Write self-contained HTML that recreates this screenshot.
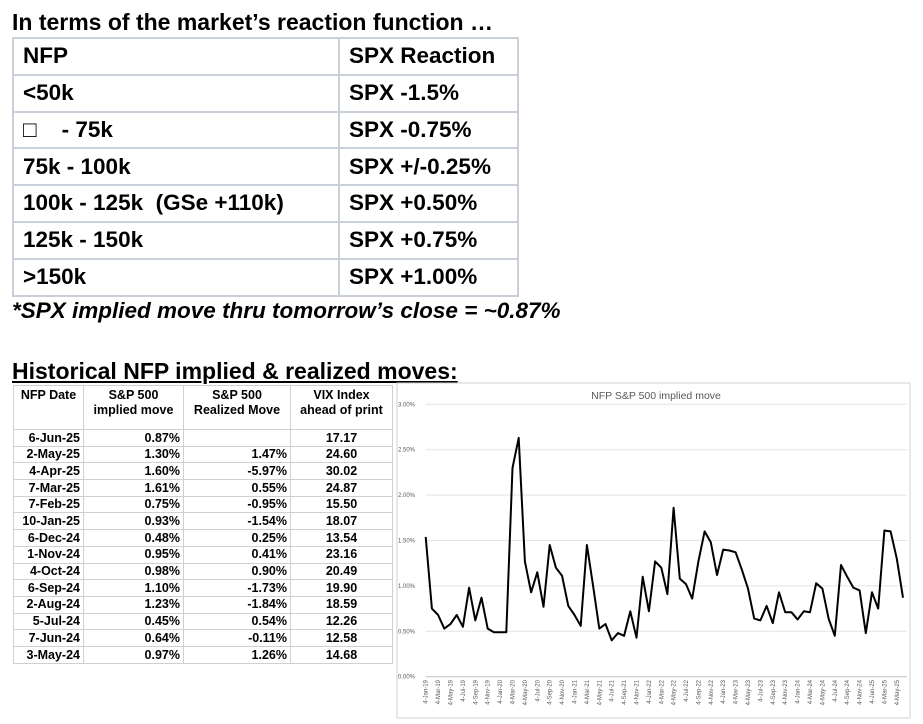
<!DOCTYPE html>
<html><head><meta charset="utf-8"><style>
body{margin:0;width:923px;height:724px;background:#fff;position:relative;overflow:hidden;font-family:"Liberation Sans",Arial,sans-serif;color:#000}
.abs{position:absolute}
#t1{left:12px;top:9px;font-weight:bold;font-size:23px;white-space:nowrap}
#rt{left:12px;top:37px;border-collapse:collapse;font-weight:bold;font-size:22.5px}
#rt td{border:2px solid #c9d0da;height:34.8px;padding:0 0 0 9px;white-space:nowrap;line-height:1}
#note{left:12px;top:298px;font-weight:bold;font-style:italic;font-size:22.5px;white-space:nowrap}
#hist{left:12px;top:358px;font-weight:bold;font-size:23px;text-decoration:underline;white-space:nowrap}
#st{left:13px;top:385px;border-collapse:collapse;font-weight:bold;font-size:12.5px}
#st td{border:1px solid #d0d0d0;padding:0 3px;height:15.7px;line-height:1;white-space:nowrap;text-align:right}
#st tr.h td{text-align:center;vertical-align:top;height:41px;padding-top:2px;line-height:15px}
</style></head><body>
<div id="t1" class="abs">In terms of the market’s reaction function …</div>
<table id="rt" class="abs">
<tr><td style="width:315px">NFP</td><td style="width:168px">SPX Reaction</td></tr>
<tr><td>&lt;50k</td><td>SPX -1.5%</td></tr>
<tr><td>□&nbsp;&nbsp;&nbsp; - 75k</td><td>SPX -0.75%</td></tr>
<tr><td>75k - 100k</td><td>SPX +/-0.25%</td></tr>
<tr><td>100k - 125k&nbsp; (GSe +110k)</td><td>SPX +0.50%</td></tr>
<tr><td>125k - 150k</td><td>SPX +0.75%</td></tr>
<tr><td>&gt;150k</td><td>SPX +1.00%</td></tr>
</table>
<div id="note" class="abs">*SPX implied move thru tomorrow’s close = ~0.87%</div>
<div id="hist" class="abs">Historical NFP implied &amp; realized moves:</div>
<table id="st" class="abs">
<tr class="h"><td style="width:63px">NFP Date</td><td style="width:93px">S&amp;P 500<br>implied move</td><td style="width:100px">S&amp;P 500<br>Realized Move</td><td style="width:95px">VIX Index<br>ahead of print</td></tr>
<tr><td>6-Jun-25</td><td>0.87%</td><td></td><td style="text-align:center">17.17</td></tr>
<tr><td>2-May-25</td><td>1.30%</td><td>1.47%</td><td style="text-align:center">24.60</td></tr>
<tr><td>4-Apr-25</td><td>1.60%</td><td>-5.97%</td><td style="text-align:center">30.02</td></tr>
<tr><td>7-Mar-25</td><td>1.61%</td><td>0.55%</td><td style="text-align:center">24.87</td></tr>
<tr><td>7-Feb-25</td><td>0.75%</td><td>-0.95%</td><td style="text-align:center">15.50</td></tr>
<tr><td>10-Jan-25</td><td>0.93%</td><td>-1.54%</td><td style="text-align:center">18.07</td></tr>
<tr><td>6-Dec-24</td><td>0.48%</td><td>0.25%</td><td style="text-align:center">13.54</td></tr>
<tr><td>1-Nov-24</td><td>0.95%</td><td>0.41%</td><td style="text-align:center">23.16</td></tr>
<tr><td>4-Oct-24</td><td>0.98%</td><td>0.90%</td><td style="text-align:center">20.49</td></tr>
<tr><td>6-Sep-24</td><td>1.10%</td><td>-1.73%</td><td style="text-align:center">19.90</td></tr>
<tr><td>2-Aug-24</td><td>1.23%</td><td>-1.84%</td><td style="text-align:center">18.59</td></tr>
<tr><td>5-Jul-24</td><td>0.45%</td><td>0.54%</td><td style="text-align:center">12.26</td></tr>
<tr><td>7-Jun-24</td><td>0.64%</td><td>-0.11%</td><td style="text-align:center">12.58</td></tr>
<tr><td>3-May-24</td><td>0.97%</td><td>1.26%</td><td style="text-align:center">14.68</td></tr>
</table>
<svg class="abs" style="left:0;top:0" width="923" height="724">
<rect x="397" y="383" width="513" height="335" fill="#fff" stroke="#d0d0d0"/>
<text x="656" y="399" text-anchor="middle" font-size="10.5" fill="#595959" font-family="Liberation Sans, sans-serif">NFP S&amp;P 500 implied move</text>
<g id="grid"></g><g id="xl"></g>
<path id="line" fill="none" stroke="#000" stroke-width="2" stroke-linejoin="round"/>
</svg>
<script>
const yTicks=[0,0.5,1,1.5,2,2.5,3];
const yTickLabels=["0.00%","0.50%","1.00%","1.50%","2.00%","2.50%","3.00%"];
const months=["Jan","Feb","Mar","Apr","May","Jun","Jul","Aug","Sep","Oct","Nov","Dec"];
const values=[1.54,0.75,0.68,0.53,0.58,0.68,0.55,0.98,0.62,0.87,0.53,0.49,
0.49,0.49,2.30,2.63,1.27,0.93,1.15,0.77,1.45,1.20,1.11,0.78,
0.68,0.56,1.45,1.00,0.53,0.58,0.40,0.48,0.45,0.72,0.43,1.10,
0.72,1.27,1.20,0.91,1.86,1.08,1.02,0.86,1.27,1.60,1.48,1.12,
1.40,1.39,1.37,1.18,0.97,0.64,0.62,0.78,0.59,0.93,0.71,0.71,
0.63,0.72,0.71,1.03,0.97,0.64,0.45,1.23,1.10,0.98,0.95,0.48,
0.93,0.75,1.61,1.60,1.30,0.87];
const categories=values.map((v,i)=>"4-"+months[i%12]+"-"+(19+Math.floor(i/12)));
const X0=425.7,X1=903,Y0=676.7,Y3=404.3;
const xs=i=>X0+(X1-X0)*i/(categories.length-1);
const ys=v=>Y0-(Y0-Y3)*v/3;
const NS="http://www.w3.org/2000/svg";
const g=document.getElementById('grid');
yTicks.forEach((t,i)=>{
 const l=document.createElementNS(NS,'line');
 
 
 l.setAttribute('x1',X0);l.setAttribute('x2',X1+4);l.setAttribute('y1',ys(t));l.setAttribute('y2',ys(t));
 l.setAttribute('stroke',i==0?'#bfbfbf':'#e4e4e4');g.appendChild(l);
 const tx=document.createElementNS(NS,'text');
 
 
 tx.setAttribute('x',398);tx.setAttribute('y',ys(t)+2);tx.setAttribute('font-size','6');tx.setAttribute('fill','#595959');
 tx.setAttribute('font-family','Liberation Sans, sans-serif');tx.textContent=yTickLabels[i];g.appendChild(tx);
});
const xl=document.getElementById('xl');
categories.forEach((c,i)=>{
 if(i%2)return;
 const tx=document.createElementNS(NS,'text');
 
 
 const x=xs(i)+2,y=680;
 tx.setAttribute('x',x);tx.setAttribute('y',y);tx.setAttribute('font-size','6');tx.setAttribute('fill','#595959');
 tx.setAttribute('text-anchor','end');tx.setAttribute('font-family','Liberation Sans, sans-serif');
 tx.setAttribute('transform','rotate(-90 '+x+' '+y+')');tx.textContent=c;xl.appendChild(tx);
});
document.getElementById('line').setAttribute('d',values.map((v,i)=>(i?'L':'M')+xs(i).toFixed(1)+','+ys(v).toFixed(1)).join(''));
</script>
</body></html>
